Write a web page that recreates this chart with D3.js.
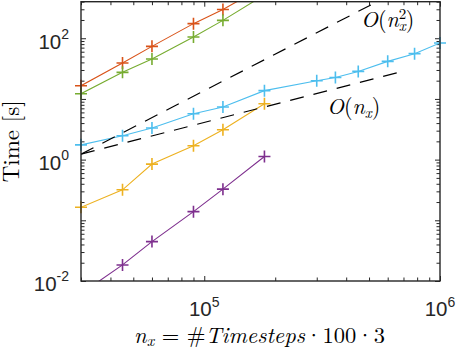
<!DOCTYPE html>
<html>
<head>
<meta charset="utf-8">
<script src="https://cdn.jsdelivr.net/npm/d3@7"></script>
<style>
  html, body { margin: 0; padding: 0; background: #fff; }
  svg { display: block; }
  .axis path { display: none; }
  .axis line { stroke: #262626; stroke-width: 1; }
</style>
</head>
<body>
<div id="chart"></div>
<script>
// n_x values shared by the series
var nx = [3e4, 4.5e4, 6e4, 9e4, 1.2e5, 1.8e5, 3e5, 3.6e5, 4.5e5, 6e5, 7.8e5, 1e6];

var redTimes    = [16.5, 39, 73.5, 174, 297, 725];
var yellowTimes = [0.164, 0.318, 0.844, 1.69, 3.10, 8.33];
var purpleTimes = [0.0062, 0.0184, 0.0446, 0.139, 0.326, 1.125];
var greenTimes  = [12.2, 27.4, 45.5, 105, 197, 518];
var cyanTimes   = [1.75, 2.47, 3.31, 5.70, 7.35, 13.7, 19.95, 22.6, 28.4, 41.6, 55.7, 83.6];

// reference slopes O(n) and O(n^2)
var refStart = [3e4, 1.23];
var refLinEnd = 7.2e5;
var refQuadEnd = 1e6;

var xMajor = [1e5, 1e6];
var yMajor = [1e-2, 1e0, 1e2];

var series = [
  {name: "red", color: "#D95319", values: redTimes},
  {name: "yellow", color: "#EDB120", values: yellowTimes},
  {name: "purple", color: "#7E2F8E", values: purpleTimes},
  {name: "green", color: "#77AC30", values: greenTimes},
  {name: "cyan", color: "#4DBEEE", values: cyanTimes}
];

var SANS = "Liberation Sans";
var TEX = "Latin Modern Roman";

var W = 457, H = 348,
    margin = {top: 1.7, right: 17, bottom: 67, left: 81},
    width = W - margin.left - margin.right,
    height = H - margin.top - margin.bottom;

var svg = d3.select("#chart").append("svg")
    .attr("width", W)
    .attr("height", H);

var x = d3.scaleLog().domain([3e4, 1e6]).range([0, width]);
var y = d3.scaleLog().domain([1e-2, 400]).range([height, 0]);

var g = svg.append("g")
    .attr("transform", "translate(" + margin.left + "," + margin.top + ")");

g.append("clipPath").attr("id", "clip")
  .append("rect").attr("width", width).attr("height", height);

function isMajor(v) { return Math.abs(Math.log10(v) - Math.round(Math.log10(v))) < 1e-9; }

var xt = x.ticks().filter(function(v) { return v >= 3e4 && v <= 1e6; });
var yt = y.ticks().filter(function(v) { return v >= 1e-2 && v <= 400; });
var xMaj = xt.filter(isMajor), xMin = xt.filter(function(v) { return !isMajor(v); });
var yMaj = yt.filter(isMajor), yMin = yt.filter(function(v) { return !isMajor(v); });

// ticks (inward, all four sides)
function addAxis(gen, vals, size, tx) {
  g.append("g").attr("class", "axis")
    .attr("transform", tx)
    .call(gen.tickValues(vals).tickSize(size).tickFormat(""));
}
addAxis(d3.axisBottom(x), xMaj, -5, "translate(0," + height + ")");
addAxis(d3.axisBottom(x), xMin, -3.5, "translate(0," + height + ")");
addAxis(d3.axisTop(x), xMaj, -5, "translate(0,0)");
addAxis(d3.axisTop(x), xMin, -3.5, "translate(0,0)");
addAxis(d3.axisLeft(y), yMaj, -5, "translate(0,0)");
addAxis(d3.axisLeft(y), yMin, -3.5, "translate(0,0)");
addAxis(d3.axisRight(y), yMaj, -5, "translate(" + width + ",0)");
addAxis(d3.axisRight(y), yMin, -3.5, "translate(" + width + ",0)");

// series lines
var line = d3.line()
    .x(function(d) { return x(d[0]); })
    .y(function(d) { return y(d[1]); });

var plot = g.append("g");

series.forEach(function(s) {
  var pts = s.values.map(function(v, i) { return [nx[i], v]; });
  plot.append("path")
    .datum(pts)
    .attr("clip-path", "url(#clip)")
    .attr("fill", "none")
    .attr("stroke", s.color)
    .attr("stroke-width", 1.1)
    .attr("d", line);
  var inside = pts.filter(function(d) { return d[1] >= 1e-2 && d[1] <= 400; });
  plot.selectAll(".m-" + s.name)
    .data(inside)
    .enter().append("path")
    .attr("class", "m-" + s.name)
    .attr("fill", "none")
    .attr("stroke", s.color)
    .attr("stroke-width", 1.6)
    .attr("d", function(d) {
      var cx = x(d[0]), cy = y(d[1]), r = 6;
      return "M" + (cx - r) + "," + cy + "H" + (cx + r) + "M" + cx + "," + (cy - r) + "V" + (cy + r);
    });
});

// reference lines
var linRef = [refStart, [refLinEnd, refStart[1] * refLinEnd / refStart[0]]];
var quadRef = [refStart, [refQuadEnd, refStart[1] * Math.pow(refQuadEnd / refStart[0], 2)]];
[linRef, quadRef].forEach(function(r) {
  plot.append("path")
    .datum(r)
    .attr("clip-path", "url(#clip)")
    .attr("fill", "none")
    .attr("stroke", "#000")
    .attr("stroke-width", 1.2)
    .attr("stroke-dasharray", "14,10")
    .attr("d", line);
});

// box
g.append("rect")
  .attr("width", width).attr("height", height)
  .attr("fill", "none").attr("stroke", "#262626").attr("stroke-width", 1.4);

// tick labels
yMajor.forEach(function(v) {
  var e = Math.round(Math.log10(v));
  var t = g.append("text")
    .attr("text-anchor", "end")
    .attr("x", -12).attr("y", y(v) + 10.5)
    .attr("font-family", SANS).attr("fill", "#262626")
    .attr("font-size", 20.5);
  t.append("tspan").text("10");
  t.append("tspan").attr("dy", -10).attr("font-size", 14).text(String(e));
});
xMajor.forEach(function(v) {
  var e = Math.round(Math.log10(v));
  var t = g.append("text")
    .attr("text-anchor", "middle")
    .attr("x", x(v)).attr("y", height + 35.5)
    .attr("font-family", SANS).attr("fill", "#262626")
    .attr("font-size", 20.5);
  t.append("tspan").text("10");
  t.append("tspan").attr("dy", -9).attr("font-size", 14).text(e);
});

// axis labels
svg.append("text")
  .attr("transform", "translate(19," + (margin.top + height / 2) + ") rotate(-90)")
  .attr("text-anchor", "middle")
  .attr("font-family", TEX)
  .attr("font-size", 23)
  .text("Time [s]");

var xl = svg.append("text")
  .attr("x", margin.left + width / 2 - 1).attr("y", 343)
  .attr("text-anchor", "middle")
  .attr("font-family", TEX)
  .attr("font-size", 22.5);
xl.append("tspan").attr("font-style", "italic").text("n");
xl.append("tspan").attr("dy", 3).attr("font-style", "italic").attr("font-size", 16).text("x");
xl.append("tspan").attr("dy", -3).text(" = #");
xl.append("tspan").attr("font-style", "italic").text("Timesteps");
xl.append("tspan").text("\u00B7100\u00B73");

// slope annotations
var a2 = svg.append("text")
  .attr("x", 361).attr("y", 27)
  .attr("font-family", TEX)
  .attr("font-size", 22);
a2.append("tspan").attr("font-style", "italic").text("O");
a2.append("tspan").text("(");
a2.append("tspan").attr("font-style", "italic").text("n");
a2.append("tspan").attr("dy", -8).attr("font-size", 15).text("2");
a2.append("tspan").attr("dx", -7.5).attr("dy", 12).attr("font-style", "italic").attr("font-size", 15).text("x");
a2.append("tspan").attr("dy", -4).text(")");

var a1 = svg.append("text")
  .attr("x", 327).attr("y", 113.5)
  .attr("font-family", TEX)
  .attr("font-size", 22);
a1.append("tspan").attr("font-style", "italic").text("O");
a1.append("tspan").text("(");
a1.append("tspan").attr("font-style", "italic").text("n");
a1.append("tspan").attr("dy", 4).attr("font-style", "italic").attr("font-size", 15).text("x");
a1.append("tspan").attr("dy", -4).text(")");
</script>
</body>
</html>
